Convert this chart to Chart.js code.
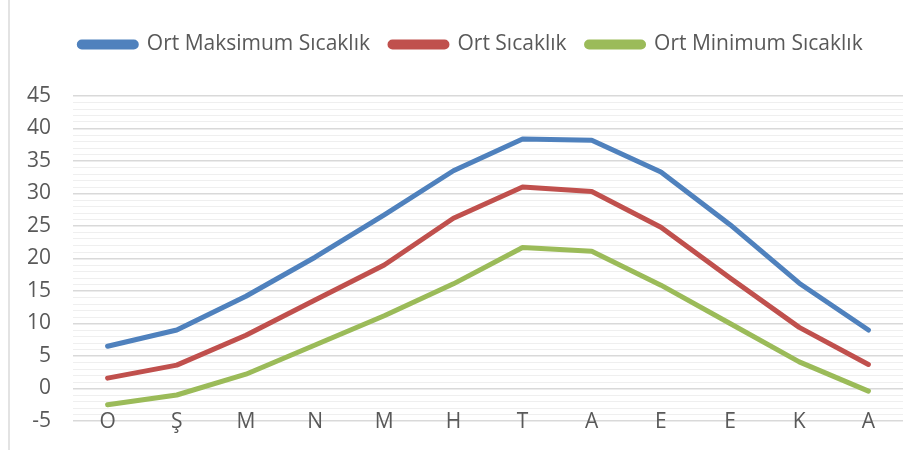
<!DOCTYPE html>
<html>
<head>
<meta charset="utf-8">
<script src="https://cdn.jsdelivr.net/npm/chart.js@4.4.1/dist/chart.umd.min.js"></script>
<style>
  html, body { margin: 0; padding: 0; background: #fff; }
  #wrap { position: relative; width: 922px; height: 450px; }
  #edge { position: absolute; left: 8px; top: 0; width: 2px; height: 450px; background: #e3e3e3; }
  canvas { position: absolute; left: 0; top: 0; }
</style>
</head>
<body>
<div id="wrap">
  <div id="edge"></div>
  <canvas id="tempChart" width="922" height="450"></canvas>
</div>
<script>
// Aylar (Ocak..Aralık baş harfleri)
const months = ['O', 'Ş', 'M', 'N', 'M', 'H', 'T', 'A', 'E', 'E', 'K', 'A'];

// Sıcaklık değerleri (°C)
const maxTemps = [6.5, 9.0, 14.2, 20.2, 26.7, 33.5, 38.4, 38.2, 33.3, 25.2, 16.2, 9.0];
const avgTemps = [1.6, 3.6, 8.2, 13.6, 19.0, 26.2, 31.0, 30.3, 24.8, 17.0, 9.4, 3.7];
const minTemps = [-2.5, -1.0, 2.2, 6.7, 11.2, 16.1, 21.7, 21.1, 15.9, 10.0, 4.1, -0.4];

const yMin = -5, yMax = 45;

const textColor = '#595959';
const fontFamily = '"Open Sans", Lato, sans-serif';
const fontSize = 21;

function series(label, data, color) {
  return {
    label, data,
    borderColor: color,
    backgroundColor: color,
    borderWidth: 5,
    borderCapStyle: 'round',
    borderJoinStyle: 'round',
    pointRadius: 0,
    pointHoverRadius: 0,
    tension: 0,
    fill: false
  };
}

// push the plot area down below the legend, and nudge the legend right a little
const legendTweak = {
  id: 'legendTweak',
  beforeInit(chart) {
    const legend = chart.legend;
    const fit = legend.fit, draw = legend.draw;
    legend.fit = function () {
      fit.call(this);
      this.height += 31;
    };
    legend.draw = function () {
      const ctx = this.ctx;
      ctx.save();
      ctx.translate(8, 0);
      draw.call(this);
      ctx.restore();
    };
  }
};

// month letters sit right on the bottom gridline, like the original
const monthLabels = {
  id: 'monthLabels',
  afterDraw(chart) {
    const x = chart.scales.x, y = chart.scales.y;
    const ctx = chart.ctx;
    ctx.save();
    ctx.fillStyle = textColor;
    ctx.font = fontSize + 'px ' + fontFamily;
    ctx.textAlign = 'center';
    ctx.textBaseline = 'middle';
    months.forEach((m, i) => {
      ctx.fillText(m, x.getPixelForValue(i), y.getPixelForValue(yMin) + 1);
    });
    ctx.restore();
  }
};

new Chart(document.getElementById('tempChart'), {
  type: 'line',
  data: {
    labels: months,
    datasets: [
      series('Ort Maksimum Sıcaklık', maxTemps, '#4f81bd'),
      series('Ort Sıcaklık', avgTemps, '#c0504d'),
      series('Ort Minimum Sıcaklık', minTemps, '#9bbb59')
    ]
  },
  options: {
    responsive: false,
    animation: false,
    layout: { padding: { left: 23, right: 19, top: 14, bottom: 29 } },
    plugins: {
      tooltip: { enabled: false },
      legend: {
        position: 'top',
        labels: {
          color: textColor,
          font: { family: fontFamily, size: fontSize },
          boxWidth: 57,
          boxHeight: 5,
          useBorderRadius: true,
          borderRadius: 2.5,
          padding: 20
        }
      }
    },
    scales: {
      x: {
        offset: true,
        grid: { display: false },
        border: { display: false },
        ticks: { display: false },
        afterFit(scale) { scale.height = 0; }
      },
      y: {
        min: yMin,
        max: yMax,
        border: { display: false },
        afterFit(scale) {
          scale.width = 50;
          scale.paddingTop = 0;
          scale.paddingBottom = 0;
        },
        grid: {
          drawTicks: false,
          color: c => (c.tick && c.tick.value % 5 === 0) ? '#d9d9d9' : '#efefef',
          lineWidth: c => (c.tick && c.tick.value % 5 === 0) ? 1.5 : 1
        },
        ticks: {
          stepSize: 1,
          autoSkip: false,
          color: textColor,
          font: { family: fontFamily, size: fontSize },
          padding: 22,
          callback: v => (v % 5 === 0 ? v : '')
        }
      }
    }
  },
  plugins: [legendTweak, monthLabels]
});
</script>
</body>
</html>
